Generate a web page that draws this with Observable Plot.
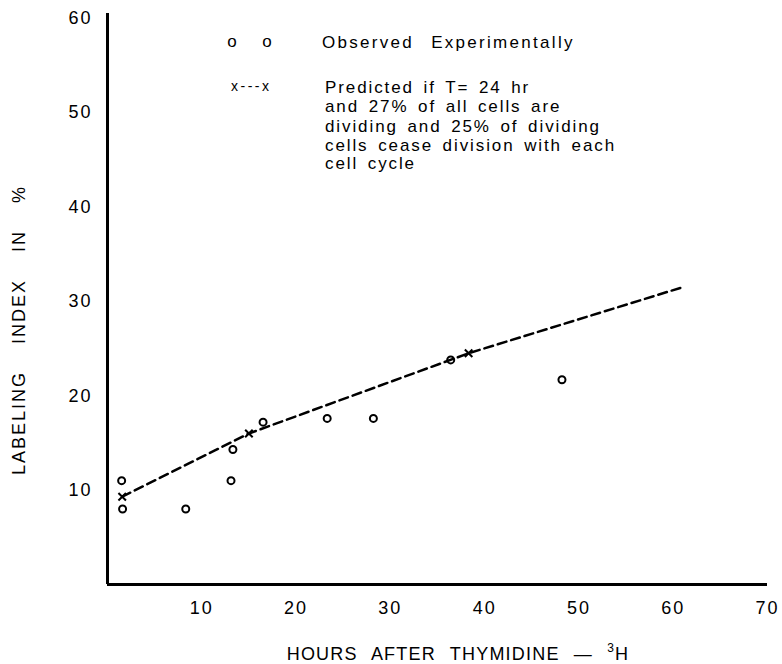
<!DOCTYPE html>
<html>
<head>
<meta charset="utf-8">
<script src="https://cdn.jsdelivr.net/npm/d3@7"></script>
<script src="https://cdn.jsdelivr.net/npm/@observablehq/plot@0.6"></script>
<style>
  html, body { margin: 0; padding: 0; background: #fff; }
  #chart { position: relative; width: 782px; height: 664px; }
</style>
</head>
<body>
<div id="chart"></div>
<script>
// Observed experimentally (open circles)
const obsHours = [1.5, 1.6, 8.3, 13.1, 13.3, 16.5, 23.3, 28.2, 36.4, 48.2];
const obsIndex = [11.0, 8.0, 8.0, 11.0, 14.3, 17.2, 17.6, 17.6, 23.8, 21.7];
// Predicted points (x markers)
const predHours = [1.56, 15.0, 38.3];
const predIndex = [9.3, 16.0, 24.5];
// Predicted dashed curve
const curveHours = [1.56, 15.0, 38.3, 61.0];
const curveIndex = [9.3, 16.0, 24.5, 31.5];
// Tick labels
const xTicks = [10, 20, 30, 40, 50, 60, 70];
const yTicks = [10, 20, 30, 40, 50, 60];
// Texts
const xTitle = "HOURS AFTER THYMIDINE \u2014 ";
const xTitleSup = "3";
const xTitleEnd = "H";
const yTitle = "LABELING INDEX IN %";
const legendObs = "Observed Experimentally";
const legendPred = ["Predicted if T= 24 hr", "and 27% of all cells are", "dividing and 25% of dividing", "cells cease division with each", "cell cycle"];

const obs = obsHours.map((h, i) => ({h, v: obsIndex[i]}));
const pred = predHours.map((h, i) => ({h, v: predIndex[i]}));
const curve = curveHours.map((h, i) => ({h, v: curveIndex[i]}));

const font = "'Liberation Sans', Arial, sans-serif";

const svg = Plot.plot({
  width: 782,
  height: 664,
  marginLeft: 107,
  marginRight: 15,
  marginTop: 13,
  marginBottom: 80,
  x: {domain: [0, 70]},
  y: {domain: [0, 60.5]},
  style: {fontFamily: font, fontSize: "18px", color: "#000", background: "#fff", letterSpacing: "2px"},
  marks: [
    Plot.axisX(xTicks, {tickSize: 0, tickPadding: 17, label: null, fontSize: 18}),
    Plot.axisY(yTicks, {tickSize: 0, tickPadding: 15, label: null, fontSize: 18}),
    Plot.ruleX([0], {stroke: "#000", strokeWidth: 3}),
    Plot.ruleY([0], {stroke: "#000", strokeWidth: 3}),
    Plot.line(curve, {x: "h", y: "v", stroke: "#000", strokeWidth: 2.5, strokeDasharray: "9,5"}),
    Plot.dot(obs, {x: "h", y: "v", r: 3.5, stroke: "#000", strokeWidth: 2, fill: "none"}),
    Plot.dot(pred, {x: "h", y: "v", symbol: "times", r: 3.5, stroke: "#000", strokeWidth: 2})
  ]
});

const s = d3.select(svg);
s.append("text")
  .attr("transform", "translate(20,330) rotate(-90)")
  .attr("text-anchor", "middle")
  .attr("dominant-baseline", "middle")
  .attr("font-size", 18)
  .attr("letter-spacing", "2px")
  .attr("word-spacing", "20px")
  .text(yTitle);
const xt = s.append("text")
  .attr("x", 458).attr("y", 660)
  .attr("text-anchor", "middle")
  .attr("font-size", 18)
  .attr("letter-spacing", "1.2px")
  .attr("word-spacing", "8px");
xt.append("tspan").text(xTitle);
xt.append("tspan").attr("font-size", 12).attr("dy", -8).text(xTitleSup);
xt.append("tspan").attr("dy", 8).text(xTitleEnd);

// legend
const lg = s.append("g").attr("font-size", 17).attr("letter-spacing", "1.9px").attr("word-spacing", "3px").attr("text-anchor", "start");
lg.append("text").attr("x", 233).attr("y", 47).attr("text-anchor", "middle").text("o");
lg.append("text").attr("x", 268).attr("y", 47).attr("text-anchor", "middle").text("o");
lg.append("text").attr("x", 322).attr("y", 48).attr("letter-spacing", "2.3px").attr("word-spacing", "10px").text(legendObs);
lg.append("text").attr("x", 231).attr("y", 91).attr("font-size", 14).attr("letter-spacing", "2.5px").attr("word-spacing", "0px").text("x---x");
const ys = [93, 112, 132, 151, 169];
legendPred.forEach((t, i) => {
  lg.append("text").attr("x", 325).attr("y", ys[i]).text(t);
});

document.getElementById("chart").appendChild(svg);
</script>
</body>
</html>
